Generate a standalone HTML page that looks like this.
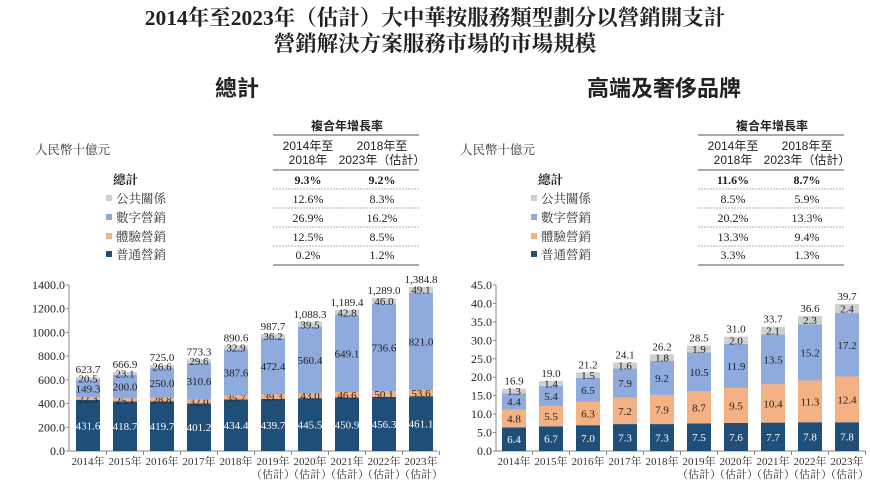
<!DOCTYPE html>
<html><head><meta charset="utf-8">
<style>
body{margin:0;width:870px;height:494px;background:#fff;overflow:hidden;font-family:"Liberation Serif","Noto Serif CJK SC",serif;}
svg{position:absolute;left:0;top:0}
</style></head>
<body>
<svg id="s" width="870" height="494" xmlns="http://www.w3.org/2000/svg">
<text x="435" y="25" text-anchor="middle" font-size="21.5" font-weight="bold" fill="#222">2014年至2023年（估計）大中華按服務類型劃分以營銷開支計</text>
<text x="435" y="51" text-anchor="middle" font-size="21.5" font-weight="bold" fill="#222">營銷解決方案服務市場的市場規模</text>
<text x="237" y="96" text-anchor="middle" font-size="22" font-weight="bold" font-family="Liberation Sans,Noto Sans CJK TC,sans-serif" fill="#222">總計</text>
<text x="664" y="96" text-anchor="middle" font-size="22" font-weight="bold" font-family="Liberation Sans,Noto Sans CJK TC,sans-serif" fill="#222">高端及奢侈品牌</text>
</svg>
<script>
const years=["2014年","2015年","2016年","2017年","2018年","2019年","2020年","2021年","2022年","2023年"];
const estFlags=[0,0,0,0,0,1,1,1,1,1];
const seriesNames=["普通營銷","體驗營銷","數字營銷","公共關係"];
const colors=["#1f4e79","#f4b183","#8faadc","#d0d0d0"];
const totalGeneral=[431.6,418.7,419.7,401.2,434.4,439.7,445.5,450.9,456.3,461.1];
const totalExperience=[22.3,25.1,28.8,32.0,35.7,39.3,43.0,46.6,50.1,53.6];
const totalDigital=[149.3,200.0,250.0,310.6,387.6,472.4,560.4,649.1,736.6,821.0];
const totalPR=[20.5,23.1,26.6,29.6,32.9,36.2,39.5,42.8,46.0,49.1];
const totalSums=["623.7","666.9","725.0","773.3","890.6","987.7","1,088.3","1,189.4","1,289.0","1,384.8"];
const totalTicks=[0,200,400,600,800,1000,1200,1400];
const luxGeneral=[6.4,6.7,7.0,7.3,7.3,7.5,7.6,7.7,7.8,7.8];
const luxExperience=[4.8,5.5,6.3,7.2,7.9,8.7,9.5,10.4,11.3,12.4];
const luxDigital=[4.4,5.4,6.5,7.9,9.2,10.5,11.9,13.5,15.2,17.2];
const luxPR=[1.3,1.4,1.5,1.6,1.8,1.9,2.0,2.1,2.3,2.4];
const luxSums=["16.9","19.0","21.2","24.1","26.2","28.5","31.0","33.7","36.6","39.7"];
const luxTicks=[0,5,10,15,20,25,30,35,40,45];
const cagrTotal=[["9.3%","9.2%"],["12.6%","8.3%"],["26.9%","16.2%"],["12.5%","8.5%"],["0.2%","1.2%"]];
const cagrLux=[["11.6%","8.7%"],["8.5%","5.9%"],["20.2%","13.3%"],["13.3%","9.4%"],["3.3%","1.3%"]];

const svg=document.getElementById('s');
const NS="http://www.w3.org/2000/svg";
function mk(tag,attrs,parent){const e=document.createElementNS(NS,tag);for(const k in attrs)e.setAttribute(k,attrs[k]);(parent||svg).appendChild(e);return e;}
function txt(x,y,s,size,anchor,fill,parent,extra){const t=mk('text',Object.assign({x:x,y:y,'font-size':size,'text-anchor':anchor||'middle',fill:fill||'#222'},extra||{}),parent);t.textContent=s;return t;}

function table(ox,cagr,prefix){
  const g=mk('g',{});
  
  
  const u=txt(35+ox,154,"人民幣十億元",12.5,'start','#333',svg);
  
  
  const sans={'font-family':'Liberation Sans,Noto Sans CJK TC,sans-serif'};
  txt(347+ox,130,"複合年增長率",12,'middle','#222',g,Object.assign({'font-weight':'bold'},sans));
  mk('line',{x1:273+ox,x2:419+ox,y1:135,y2:135,stroke:'#555','stroke-width':1},g);
  txt(308+ox,150,"2014年至",12,'middle','#222',g,sans);
  txt(308+ox,164,"2018年",12,'middle','#222',g,sans);
  txt(382+ox,150,"2018年至",12,'middle','#222',g,sans);
  txt(382+ox,164,"2023年（估計）",12,'middle','#222',g,sans);
  mk('line',{x1:273+ox,x2:419+ox,y1:170,y2:170,stroke:'#555','stroke-width':1},g);
  const labels=["總計","公共關係","數字營銷","體驗營銷","普通營銷"];
  const mcol=[null,colors[3],colors[2],colors[1],colors[0]];
  const rowY=[184,203,222,241,259];
  for(let i=0;i<5;i++){
    const lg=mk('g',{},g);
    
    
    if(i===0){txt(113+ox,rowY[i],labels[i],12.5,'start','#222',lg,{'font-weight':'bold'});}
    else{mk('rect',{x:106+ox,y:rowY[i]-8,width:6,height:6,fill:mcol[i]},lg);txt(116+ox,rowY[i],labels[i],12.5,'start','#333',lg);}
    const w=i===0?{'font-weight':'bold'}:{};
    txt(308+ox,rowY[i],cagr[i][0],12,'middle','#222',lg,w);
    txt(382+ox,rowY[i],cagr[i][1],12,'middle','#222',lg,w);
    if(i<4)mk('line',{x1:273+ox,x2:419+ox,y1:rowY[i]+5,y2:rowY[i]+5,stroke:'#999','stroke-width':0.8,'stroke-dasharray':'2,1'},lg);
  }
  mk('line',{x1:273+ox,x2:419+ox,y1:265,y2:265,stroke:'#555','stroke-width':1},g);
}
table(0,cagrTotal,'total');
table(425,cagrLux,'luxury');

function chart(axX,x0,maxV,ticks,decimals,series,sums,prefix,axEnd){
  const y0=451,yTop=285;
  const yS=v=>y0-(v/maxV)*(y0-yTop);
  const xS=i=>x0+i*37;
  const g=mk('g',{});
  
  
  mk('line',{x1:axX,x2:axX,y1:yTop,y2:y0,stroke:'#888','stroke-width':1},g);
  mk('line',{x1:axX,x2:axEnd,y1:y0,y2:y0,stroke:'#888','stroke-width':1},g);
  ticks.forEach(t=>{
    const tl=txt(axX-4,yS(t)+4,t.toFixed(1),12,'end','#222',g);
    
    
    mk('line',{x1:axX-3,x2:axX,y1:yS(t),y2:yS(t),stroke:'#888'},g);
  });
  years.forEach((yr,i)=>{
    const cx=xS(i);
    mk('line',{x1:cx+18.5,x2:cx+18.5,y1:y0,y2:y0+4,stroke:'#888'},g);
    const xl=txt(cx,y0+14,yr,11,'middle','#333',g);
    
    
    if(estFlags[i])txt(cx,y0+27,"（估計）",11,'middle','#333',g);
    let cum=0;
    series.forEach((arr,s)=>{
      const v=arr[i];
      const yt=yS(cum+v),yb=yS(cum);
      const r=mk('rect',{x:cx-12,y:yt,width:24,height:yb-yt,fill:colors[s]},g);
      
      
      txt(cx,(yt+yb)/2+4,v.toFixed(1),11,'middle',s===0?'#fff':'#222',g);
      cum+=v;
    });
    const st=txt(cx,yS(cum)-4,sums[i],11,'middle','#222',g);
    
    
  });
}
chart(69,88,1400,totalTicks,1,[totalGeneral,totalExperience,totalDigital,totalPR],totalSums,'total',438);
chart(496,514,45,luxTicks,1,[luxGeneral,luxExperience,luxDigital,luxPR],luxSums,'luxury',866);
</script>
</body></html>
